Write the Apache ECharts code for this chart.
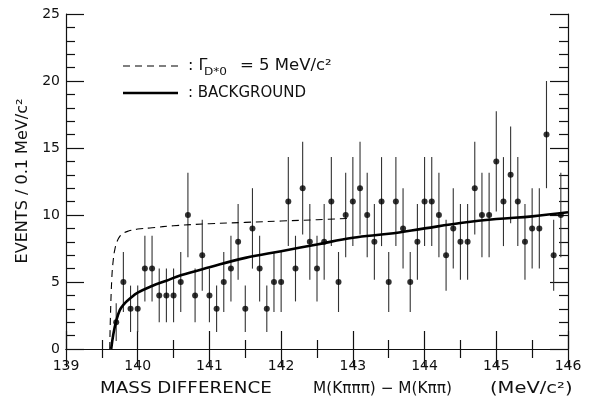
<!DOCTYPE html>
<html><head><meta charset="utf-8">
<script src="https://cdn.jsdelivr.net/npm/echarts@6/dist/echarts.min.js"></script>
<style>html,body{margin:0;padding:0;background:#fff}#c{width:595px;height:405px}</style>
</head><body><div id="c"></div>
<script>
// Bin centres (MeV/c^2) and event counts per 0.1 MeV/c^2
const massX = [139.7,139.8,139.9,140.0,140.1,140.2,140.3,140.4,140.5,140.6,140.7,140.8,140.9,
  141.0,141.1,141.2,141.3,141.4,141.5,141.6,141.7,141.8,141.9,
  142.0,142.1,142.2,142.3,142.4,142.5,142.6,142.7,142.8,142.9,
  143.0,143.1,143.2,143.3,143.4,143.5,143.6,143.7,143.8,143.9,
  144.0,144.1,144.2,144.3,144.4,144.5,144.6,144.7,144.8,144.9,
  145.0,145.1,145.2,145.3,145.4,145.5,145.6,145.7,145.8,145.9];
const events = [2,5,3,3,6,6,4,4,4,5,10,4,7,
  4,3,5,6,8,3,9,6,3,5,
  5,11,6,12,8,6,8,11,5,10,
  11,12,10,8,11,5,11,9,5,8,
  11,11,10,7,9,8,8,12,10,10,
  14,11,13,11,8,9,9,16,7,10];
// half-lengths of the error bars as drawn
const errors = [1.41,2.24,1.73,1.73,2.45,2.45,2,2,2,2.24,3.16,2,2.65,
  2,1.73,2.24,2.45,2.83,1.73,3,2.45,1.73,2.24,
  2.24,3.32,2.45,3.46,2.83,2.45,2.83,3.32,2.24,3.16,
  3.32,3.46,3.16,2.83,3.32,2.24,3.32,3,2.24,2.83,
  3.32,3.32,3.16,2.65,3,2.83,2.83,3.46,3.16,3.16,
  3.74,3.32,3.61,3.32,2.83,3,3,4,2.65,3.16];
// background curve
const bgX = [139.63,139.66,139.70,139.75,139.80,139.90,140.00,140.20,140.40,140.60,141.00,141.50,142.00,142.50,143.00,143.50,144.00,144.50,145.00,145.50,146.00];
const bgY = [0,1.1,2.1,2.9,3.3,3.8,4.2,4.7,5.1,5.5,6.1,6.8,7.3,7.8,8.3,8.6,9.0,9.4,9.7,9.9,10.2];
// signal (Gamma = 5 MeV/c^2) curve
const sigX = [139.61,139.62,139.64,139.66,139.68,139.71,139.75,139.80,139.87,140.00,140.20,140.50,141.00,141.50,142.00,142.50,142.95];
const sigY = [0,2.5,5.4,6.7,7.4,8.0,8.4,8.65,8.8,8.95,9.05,9.2,9.35,9.45,9.55,9.65,9.75];

const FONT = 'DejaVu Sans';
const chart = echarts.init(document.getElementById('c'), null, {renderer:'canvas'});
const axisBase = {
  type:'value', min:139, max:146, interval:1,
  axisLine:{lineStyle:{color:'#111', width:1.2}},
  axisTick:{inside:true, length:18, lineStyle:{color:'#111', width:1.2}},
  minorTick:{show:true, splitNumber:2, length:9, lineStyle:{color:'#111', width:1.2}},
  splitLine:{show:false}
};
const yBase = {
  type:'value', min:0, max:25, interval:5,
  axisLine:{show:true, lineStyle:{color:'#111', width:1.2}},
  axisTick:{show:true, inside:true, length:18, lineStyle:{color:'#111', width:1.2}},
  minorTick:{show:true, splitNumber:5, length:9, lineStyle:{color:'#111', width:1.2}},
  splitLine:{show:false}
};
chart.setOption({
  animation:false,
  backgroundColor:'#fff',
  grid:{left:66, right:27, top:14, bottom:56},
  xAxis:[
    Object.assign({}, axisBase, {position:'bottom',
      axisLabel:{color:'#111', fontFamily:FONT, fontSize:14, margin:10}}),
    Object.assign({}, axisBase, {position:'top', axisLabel:{show:false}})
  ],
  yAxis:[
    Object.assign({}, yBase, {position:'left',
      axisLabel:{color:'#111', fontFamily:FONT, fontSize:14, margin:6}}),
    Object.assign({}, yBase, {position:'right', axisLabel:{show:false}})
  ],
  series:[
    {
      type:'custom', xAxisIndex:0, yAxisIndex:0,
      data: massX.map((x,i)=>[x, events[i], errors[i]]),
      encode:{x:0, y:1},
      renderItem:function(params, api){
        const x = api.value(0), y = api.value(1), e = api.value(2);
        const t = api.coord([x, y+e]), b = api.coord([x, y-e]);
        return {type:'line', shape:{x1:t[0], y1:t[1], x2:b[0], y2:b[1]},
          style:{stroke:'#333', lineWidth:1.1}};
      },
      z:2
    },
    {
      type:'scatter', data: massX.map((x,i)=>[x, events[i]]),
      symbol:'circle', symbolSize:6, itemStyle:{color:'#000'}, z:3
    },
    {
      type:'line', data: bgX.map((x,i)=>[x, bgY[i]]), smooth:0.4, showSymbol:false,
      lineStyle:{color:'#000', width:2.6}, z:4
    },
    {
      type:'line', data: sigX.map((x,i)=>[x, sigY[i]]), smooth:0.4, showSymbol:false,
      lineStyle:{color:'#000', width:1.1, type:[7,5]}, z:4
    }
  ],
  graphic:[
    {type:'line', shape:{x1:123, y1:66, x2:178, y2:66}, style:{stroke:'#000', lineWidth:1.1, lineDash:[7,5]}},
    {type:'line', shape:{x1:123, y1:93, x2:178, y2:93}, style:{stroke:'#000', lineWidth:2.4}},
    {type:'text', x:188, y:66, style:{text:': Γ', font:'16px '+FONT, fill:'#111', verticalAlign:'middle'}},
    {type:'text', x:204, y:72, scaleX:1.1, style:{text:'D*0', font:'11px '+FONT, fill:'#111', verticalAlign:'middle'}},
    {type:'text', x:240, y:66, scaleX:1.1, style:{text:'= 5 MeV/c²', font:'15px '+FONT, fill:'#111', verticalAlign:'middle'}},
    {type:'text', x:188, y:93, style:{text:': BACKGROUND', font:'15px '+FONT, fill:'#111', verticalAlign:'middle'}},
    {type:'text', x:23, y:181, rotation:Math.PI/2, scaleX:1.07, style:{text:'EVENTS / 0.1 MeV/c²', font:'15px '+FONT, fill:'#111', align:'center', verticalAlign:'middle'}},
    {type:'text', x:100, y:389, scaleX:1.22, style:{text:'MASS DIFFERENCE', font:'15px '+FONT, fill:'#111', align:'left', verticalAlign:'middle'}},
    {type:'text', x:313, y:389, scaleX:1.02, style:{text:'M(Kπππ) − M(Kππ)', font:'15px '+FONT, fill:'#111', align:'left', verticalAlign:'middle'}},
    {type:'text', x:490, y:389, scaleX:1.3, style:{text:'(MeV/c²)', font:'15px '+FONT, fill:'#111', align:'left', verticalAlign:'middle'}}
  ]
});
</script></body></html>
